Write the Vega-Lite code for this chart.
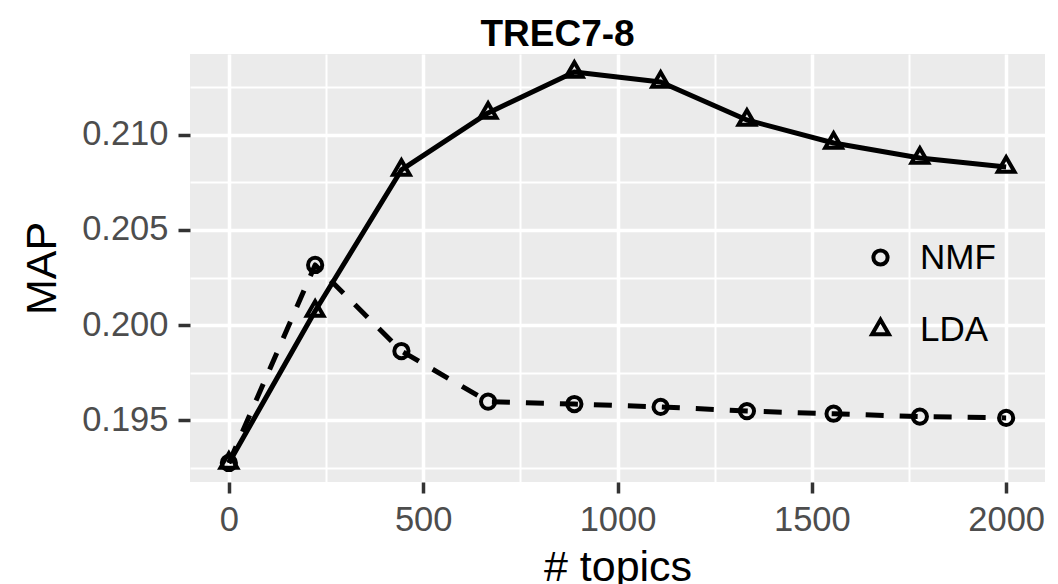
{
  "$schema": "https://vega.github.io/schema/vega-lite/v6.json",
  "width": 855,
  "height": 428,
  "autosize": {"type": "none"},
  "padding": {"left": 190, "top": 54, "right": 13, "bottom": 102},
  "background": "white",
  "config": {
    "font": "Liberation Sans",
    "view": {"fill": "#ebebeb", "stroke": null},
    "axis": {
      "domain": false,
      "gridColor": "white",
      "tickColor": "#333333",
      "tickWidth": 3.5,
      "labelColor": "#4d4d4d",
      "labelFontSize": 34.5,
      "labelFont": "Liberation Sans",
      "labelOverlap": false,
      "labelFlush": false,
      "labelBound": false,
      "titleFont": "Liberation Sans",
      "titleFontSize": 43,
      "titleFontWeight": "normal",
      "titleColor": "black"
    },
    "legend": {
      "labelFont": "Liberation Sans",
      "labelFontSize": 35,
      "labelColor": "black",
      "padding": 0,
      "rowPadding": 35,
      "labelOffset": 22,
      "symbolSize": 280,
      "symbolStrokeWidth": 4
    }
  },
  "title": {
    "text": "TREC7-8",
    "font": "Liberation Sans",
    "fontSize": 37,
    "fontWeight": "bold",
    "color": "black",
    "anchor": "middle",
    "frame": "group",
    "dx": -60,
    "offset": 0
  },
  "data": {
    "values": [
      {"topics": 0, "MAP": 0.19274, "method": "NMF"},
      {"topics": 222, "MAP": 0.20316, "method": "NMF"},
      {"topics": 444, "MAP": 0.19863, "method": "NMF"},
      {"topics": 667, "MAP": 0.19597, "method": "NMF"},
      {"topics": 889, "MAP": 0.19584, "method": "NMF"},
      {"topics": 1111, "MAP": 0.19569, "method": "NMF"},
      {"topics": 1333, "MAP": 0.19547, "method": "NMF"},
      {"topics": 1556, "MAP": 0.19533, "method": "NMF"},
      {"topics": 1778, "MAP": 0.19518, "method": "NMF"},
      {"topics": 2000, "MAP": 0.19511, "method": "NMF"},
      {"topics": 0, "MAP": 0.19274, "method": "LDA"},
      {"topics": 222, "MAP": 0.20074, "method": "LDA"},
      {"topics": 444, "MAP": 0.20816, "method": "LDA"},
      {"topics": 667, "MAP": 0.21116, "method": "LDA"},
      {"topics": 889, "MAP": 0.21332, "method": "LDA"},
      {"topics": 1111, "MAP": 0.21279, "method": "LDA"},
      {"topics": 1333, "MAP": 0.21079, "method": "LDA"},
      {"topics": 1556, "MAP": 0.20958, "method": "LDA"},
      {"topics": 1778, "MAP": 0.20879, "method": "LDA"},
      {"topics": 2000, "MAP": 0.20832, "method": "LDA"}
    ]
  },
  "encoding": {
    "x": {
      "field": "topics",
      "type": "quantitative",
      "scale": {"domain": [-100, 2100], "nice": false, "zero": false},
      "axis": {
        "title": "# topics",
        "values": [0, 250, 500, 750, 1000, 1250, 1500, 1750, 2000],
        "format": "d",
        "labelExpr": "datum.value % 500 === 0 ? datum.label : ''",
        "gridWidth": {"condition": {"test": "datum.value % 500 === 0", "value": 3.5}, "value": 2},
        "tickOpacity": {"condition": {"test": "datum.value % 500 === 0", "value": 1}, "value": 0},
        "tickSize": 11,
        "labelPadding": 10,
        "titlePadding": 10
      }
    },
    "y": {
      "field": "MAP",
      "type": "quantitative",
      "scale": {"domain": [0.191737, 0.214263], "nice": false, "zero": false},
      "axis": {
        "title": "MAP",
        "values": [0.1925, 0.195, 0.1975, 0.2, 0.2025, 0.205, 0.2075, 0.21, 0.2125],
        "format": ".3f",
        "labelExpr": "abs(datum.value * 200 - round(datum.value * 200)) < 0.01 ? datum.label : ''",
        "gridWidth": {"condition": {"test": "abs(datum.value * 200 - round(datum.value * 200)) < 0.01", "value": 3.5}, "value": 2},
        "tickOpacity": {"condition": {"test": "abs(datum.value * 200 - round(datum.value * 200)) < 0.01", "value": 1}, "value": 0},
        "tickSize": 12,
        "labelPadding": 10,
        "titlePadding": 17
      }
    }
  },
  "layer": [
    {
      "transform": [{"filter": "datum.method === 'NMF'"}],
      "mark": {"type": "line", "color": "black", "strokeWidth": 5, "strokeCap": "butt", "strokeJoin": "round", "strokeDash": [18, 16]},
      "encoding": {}
    },
    {
      "transform": [{"filter": "datum.method === 'LDA'"}],
      "mark": {"type": "line", "color": "black", "strokeWidth": 5, "strokeCap": "butt", "strokeJoin": "round"},
      "encoding": {}
    },
    {
      "mark": {"type": "point", "filled": false, "color": "black", "strokeWidth": 4, "opacity": 1, "size": 280},
      "encoding": {
        "shape": {
          "field": "method",
          "type": "nominal",
          "scale": {
            "domain": ["NMF", "LDA"],
            "range": [
              "M0.85,0A0.85,0.85,0,1,1,-0.85,0A0.85,0.85,0,1,1,0.85,0",
              "M0,-1.155L1,0.577L-1,0.577Z"
            ]
          },
          "legend": {
            "title": null,
            "orient": "none",
            "direction": "vertical",
            "legendX": 673,
            "legendY": 186,
            "encode": {
              "symbols": {
                "shape": {"value": {"expr": "datum.value === 'NMF' ? 'M-3,0H-0.8M0.8,0H3M0.8,0A0.8,0.8,0,1,1,-0.8,0A0.8,0.8,0,1,1,0.8,0' : 'M-3,0H3M0,-1.1L0.95,0.55L-0.95,0.55Z'"}}
              }
            }
          }
        }
      }
    }
  ]
}
